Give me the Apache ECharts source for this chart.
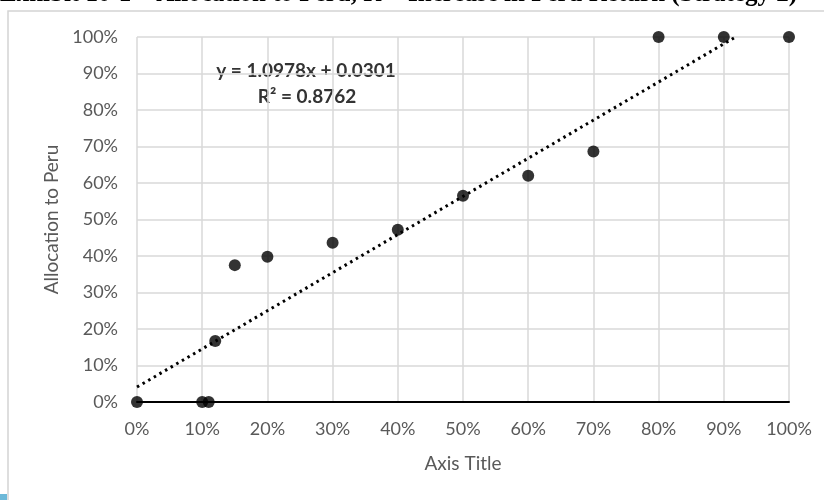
<!DOCTYPE html>
<html>
<head>
<meta charset="utf-8">
<script src="https://cdn.jsdelivr.net/npm/echarts@6/dist/echarts.min.js"></script>
<style>
  html, body { margin: 0; padding: 0; background: #fff; }
  #chart { width: 824px; height: 500px; }
</style>
</head>
<body>
<div id="chart"></div>
<script>
// return increase (x) vs allocation to Peru (y)
var xValues = [0, 0.10, 0.11, 0.12, 0.15, 0.20, 0.30, 0.40, 0.50, 0.60, 0.70, 0.80, 0.90, 1.00];
var yValues = [0, 0, 0, 0.167, 0.375, 0.398, 0.436, 0.472, 0.565, 0.62, 0.686, 1.00, 1.00, 1.00];
// trendline ends
var trendX = [0, 0.918];
var trendY = [0.041, 1.0];
var equationText = 'y = 1.0978x + 0.0301';
var rSquaredText = 'R² = 0.8762';
var titleText = 'Exhibit 10-1 – Allocation to Peru, R = Increase in Peru Return (Strategy 2)';

var points = xValues.map(function (x, i) { return [x, yValues[i]]; });
var trend = trendX.map(function (x, i) { return [x, trendY[i]]; });

var font = 'Lato, "Open Sans", sans-serif';
var pct = function (v) { return Math.round(v * 100) + '%'; };

var option = {
    animation: false,
    backgroundColor: '#fff',
    textStyle: { fontFamily: font },
    grid: { left: 137, right: 35, top: 37, bottom: 98 },
    graphic: [
        // chart frame
        { type: 'rect', shape: { x: 8, y: 11, width: 830, height: 500 },
          style: { fill: 'none', stroke: '#d4d4d4', lineWidth: 1.5 } },
        { type: 'rect', shape: { x: 0, y: 494, width: 7, height: 6 },
          style: { fill: '#6cb8d8' } },
        // clipped caption above the chart
        { type: 'text', left: 0, top: -18,
          style: { text: titleText, font: 'bold 25px "Liberation Serif", serif', fill: '#000' } },
        { type: 'text', x: 306, y: 71,
          style: { text: equationText, font: 'bold 19px ' + font, fill: '#333', align: 'center', verticalAlign: 'middle' } },
        { type: 'text', x: 307, y: 97,
          style: { text: rSquaredText, font: 'bold 19px ' + font, fill: '#333', align: 'center', verticalAlign: 'middle' } }
    ],
    xAxis: {
        type: 'value',
        min: 0, max: 1, interval: 0.1,
        name: 'Axis Title',
        nameLocation: 'middle',
        nameGap: 52,
        nameTextStyle: { fontSize: 19, color: '#595959', fontFamily: font },
        axisLine: { show: true, onZero: false, lineStyle: { color: '#000', width: 2 } },
        axisTick: { show: false },
        axisLabel: { formatter: pct, fontSize: 18, color: '#595959', margin: 18, fontFamily: font },
        splitLine: { show: true, lineStyle: { color: '#d9d9d9', width: 1.5 } }
    },
    yAxis: {
        type: 'value',
        min: 0, max: 1, interval: 0.1,
        name: 'Allocation to Peru',
        nameLocation: 'middle',
        nameGap: 76,
        nameTextStyle: { fontSize: 19, color: '#595959', fontFamily: font },
        axisLine: { show: false },
        axisTick: { show: false },
        axisLabel: { formatter: pct, fontSize: 18, color: '#595959', margin: 19, fontFamily: font },
        splitLine: { show: true, lineStyle: { color: '#d9d9d9', width: 1.5 } }
    },
    series: [
        {
            name: 'Trend',
            type: 'line',
            data: trend,
            symbol: 'none',
            clip: false,
            lineStyle: { color: '#000', width: 3, type: [2.5, 4] },
            z: 3
        },
        {
            name: 'Allocation',
            type: 'scatter',
            data: points,
            symbolSize: 12,
            itemStyle: { color: '#000' },
            clip: false,
            z: 4
        }
    ]
};

var myChart = echarts.init(document.getElementById('chart'));
myChart.setOption(option);
</script>
</body>
</html>
